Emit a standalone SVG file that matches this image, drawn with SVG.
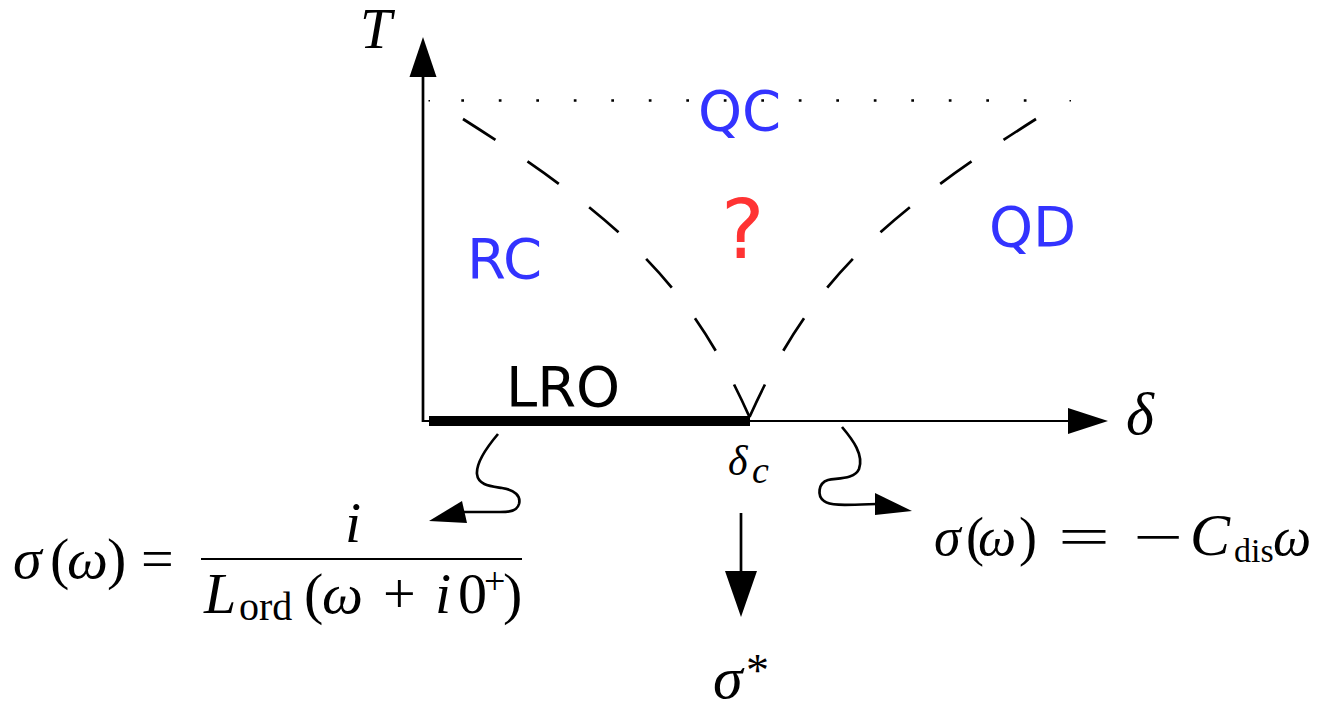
<svg xmlns="http://www.w3.org/2000/svg" width="1323" height="702" viewBox="0 0 1323 702">
<style>
.ax{stroke:#000;stroke-width:2.7;fill:none}
.thin{stroke:#000;stroke-width:2;fill:none}
.dash{stroke:#000;stroke-width:2.7;fill:none;stroke-dasharray:38.5 38.5}
.dot{stroke:#000;stroke-width:2.7;fill:none;stroke-dasharray:2.7 34.8}
.sq{stroke:#000;stroke-width:2.7;fill:none}
.head{fill:#000;stroke:none}
.lbl{font-family:"DejaVu Sans","Open Sans",sans-serif}
.blue{fill:#3333ff}
.red{fill:#ff3333}
.m{font-family:"Liberation Serif","Times New Roman",serif;fill:#000}
.i{font-style:italic}
</style>
<rect width="1323" height="702" fill="#fff"/>
<g id="connectors">
<line class="ax" x1="423" y1="422" x2="423" y2="76"/>
<polygon class="head" points="423,37 409.5,77 436.5,77"/>
<line class="thin" x1="422" y1="421" x2="1070" y2="421"/>
<polygon class="head" points="1108,421 1068,408 1068,434"/>
<rect x="429" y="416" width="321" height="10" fill="#000"/>
<line class="dot" x1="461.3" y1="100.5" x2="1028" y2="100.5"/>
<rect x="428.5" y="100" width="1.5" height="1.5" fill="#000"/>
<rect x="1069.5" y="100" width="1.5" height="1.5" fill="#000"/>
<path class="dash" d="M463,119 C623.6,220.7 691.3,287 749.5,417"/>
<path class="dash" d="M1036,119 C875.4,220.7 807.7,287 749.5,417"/>
<path class="sq" d="M498,434 C487,447 476,462 477,474 C478,485 490,486 502,488 C515,490 521,496 519,504 C517,511 510,512 500,512 L462,512"/>
<polygon class="head" points="429,521 462,501 467,523"/>
<path class="sq" d="M842,427 C853,440 864,455 859,469 C855,479 838,478 828,480 C818,483 817,496 824,501 C830,506 845,505 877,504"/>
<polygon class="head" points="912,511 875,493 875,515"/>
<line class="ax" x1="741" y1="513" x2="741" y2="573"/>
<polygon class="head" points="741,617 725,571 757,571"/>
</g>
<g id="axis-T"><text class="m i" x="360" y="48" font-size="57">T</text></g>
<g id="axis-delta"><text class="m i" x="1126" y="434" font-size="60">δ</text></g>
<g id="QC"><text class="lbl blue" x="698" y="130" font-size="56">QC</text></g>
<g id="RC"><text class="lbl blue" x="467" y="278" font-size="56">RC</text></g>
<g id="QD"><text class="lbl blue" x="989" y="246" font-size="56">QD</text></g>
<g id="question"><text class="lbl red" x="721" y="258" font-size="82">?</text></g>
<g id="LRO"><text class="lbl" x="506" y="406" font-size="56" fill="#000">LRO</text></g>
<g id="delta-c"><text class="m"><tspan class="i" x="728" y="475" font-size="42">δ</tspan><tspan class="i" x="752" y="483" font-size="38">c</tspan></text></g>
<g id="sigma-star"><text class="m"><tspan class="i" x="713" y="698" font-size="60">σ</tspan><tspan x="746" y="686" font-size="46">*</tspan></text></g>
<g id="formula-ordered">
<text class="m" font-size="58"><tspan class="i" x="13" y="578">σ</tspan><tspan x="50" y="578">(</tspan><tspan class="i" x="67" y="578">ω</tspan><tspan x="107" y="578">)</tspan><tspan x="141" y="578">=</tspan></text>
<line x1="201" y1="559" x2="522" y2="559" stroke="#000" stroke-width="2"/>
<text class="m" font-size="58"><tspan class="i" x="345" y="542">i</tspan><tspan class="i" x="204" y="613">L</tspan><tspan x="239" y="620" font-size="40">ord</tspan><tspan x="304" y="613">(</tspan><tspan class="i" x="322" y="613">ω</tspan><tspan x="383" y="613">+</tspan><tspan class="i" x="435" y="613">i</tspan><tspan x="458" y="613">0</tspan><tspan x="484" y="594" font-size="38">+</tspan><tspan x="503" y="613">)</tspan></text>
</g>
<g id="formula-disordered">
<text class="m" font-size="54"><tspan class="i" x="934" y="555">σ</tspan><tspan x="966" y="555">(</tspan><tspan class="i" x="978" y="555">ω</tspan><tspan x="1019" y="555">)</tspan><tspan class="i" x="1190" y="555" font-size="60">C</tspan><tspan x="1234" y="562" font-size="34">dis</tspan><tspan class="i" x="1273" y="555">ω</tspan></text>
<text class="m" x="1058" y="555" font-size="54" textLength="52" lengthAdjust="spacingAndGlyphs">=</text>
<text class="m" x="1133" y="555" font-size="54" textLength="50" lengthAdjust="spacingAndGlyphs">−</text>
</g>
</svg>
